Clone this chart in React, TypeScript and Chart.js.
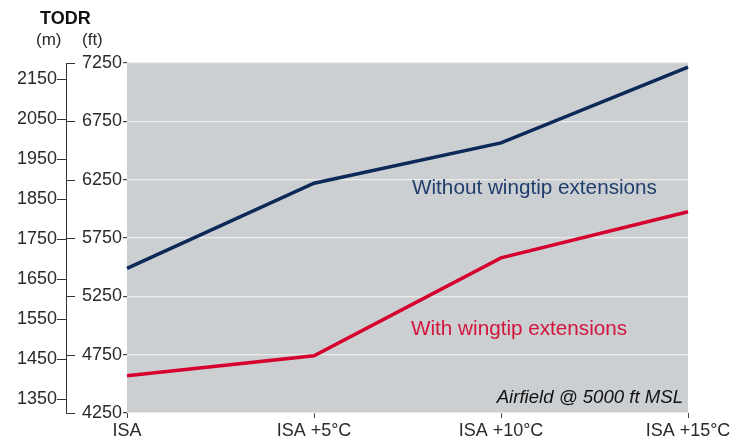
import React, { useEffect, useRef } from "react";
import { Chart, registerables } from "chart.js";

Chart.register(...registerables);

const categories = ["ISA", "ISA +5°C", "ISA +10°C", "ISA +15°C"];
const withoutWingtip = [5490, 6220, 6565, 7215];
const withWingtip = [4570, 4740, 5580, 5975];
const ftTicks = [4250, 4750, 5250, 5750, 6250, 6750, 7250];
const mTicks = [1350, 1450, 1550, 1650, 1750, 1850, 1950, 2050, 2150];
const ftRange = [4250, 7250];
const mRange = [1315, 2190];

const FONT = "'Liberation Sans', Arial, Helvetica, sans-serif";
const NAVY = "#0c2957";
const RED = "#d6002e";
const TEXT = "#2a2a2a";

const decorPlugin = {
  id: "decor",
  beforeDraw(chart: any) {
    const { ctx, chartArea } = chart;
    ctx.save();
    ctx.fillStyle = "#cccfd2";
    ctx.fillRect(chartArea.left, chartArea.top, chartArea.right - chartArea.left, chartArea.bottom - chartArea.top);
    ctx.restore();
  },
  afterDraw(chart: any) {
    const { ctx, chartArea } = chart;
    const m = chart.scales.ym;
    const f = chart.scales.yft;
    ctx.save();
    ctx.strokeStyle = "#333";
    ctx.lineWidth = 1;
    ftTicks.forEach((v) => {
      const y = Math.round(f.getPixelForValue(v)) + 0.5;
      ctx.beginPath();
      ctx.moveTo(m.right, y);
      ctx.lineTo(m.right + 9, y);
      ctx.stroke();
    });
    ctx.fillStyle = "#111";
    ctx.textBaseline = "alphabetic";
    ctx.textAlign = "left";
    ctx.font = `bold 18px ${FONT}`;
    ctx.fillText("TODR", 40, 24);
    ctx.fillStyle = TEXT;
    ctx.font = `17px ${FONT}`;
    ctx.fillText("(m)", 36, 45);
    ctx.fillText("(ft)", 82, 45);
    ctx.font = `20.7px ${FONT}`;
    ctx.fillStyle = "#1f3d6d";
    ctx.fillText("Without wingtip extensions", 412, 194);
    ctx.fillStyle = "#d3143c";
    ctx.fillText("With wingtip extensions", 411, 335);
    ctx.fillStyle = "#111";
    ctx.font = `italic 18.6px ${FONT}`;
    ctx.textAlign = "right";
    ctx.fillText("Airfield @ 5000 ft MSL", chartArea.right - 5, 403);
    ctx.restore();
  },
};

const plain = (v: any) => String(v);

export default function App() {
  const ref = useRef<HTMLCanvasElement | null>(null);
  useEffect(() => {
    document.body.style.margin = "0";
    if (!ref.current) return;
    const chart = new Chart(ref.current, {
      type: "line",
      data: {
        labels: categories,
        datasets: [
          {
            label: "Without wingtip extensions",
            data: withoutWingtip,
            borderColor: NAVY,
            borderWidth: 3.5,
            pointRadius: 0,
            tension: 0,
            yAxisID: "yft",
          },
          {
            label: "With wingtip extensions",
            data: withWingtip,
            borderColor: RED,
            borderWidth: 3.5,
            pointRadius: 0,
            tension: 0,
            yAxisID: "yft",
          },
        ],
      },
      options: {
        responsive: false,
        animation: false,
        devicePixelRatio: 1,
        layout: { padding: { top: 63, right: 58, bottom: 0, left: 0 } },
        plugins: { legend: { display: false }, tooltip: { enabled: false } },
        scales: {
          x: {
            type: "category",
            offset: false,
            grid: { drawOnChartArea: false, drawTicks: true, tickLength: 5, tickColor: "#444" },
            border: { display: false },
            ticks: { color: TEXT, font: { family: FONT, size: 18 }, padding: 2, maxRotation: 0, autoSkip: false },
            afterFit: (s: any) => { s.height = 27; },
          },
          yft: {
            type: "linear",
            position: "left",
            weight: 0,
            min: ftRange[0],
            max: ftRange[1],
            afterBuildTicks: (s: any) => { s.ticks = ftTicks.map((v) => ({ value: v })); },
            grid: { color: "#ececec", lineWidth: 1.2, tickLength: 4, tickColor: "#444", drawTicks: true },
            border: { display: false },
            ticks: { color: TEXT, font: { family: FONT, size: 18 }, padding: 1, callback: plain },
            afterFit: (s: any) => { s.width = 61; },
          },
          ym: {
            type: "linear",
            position: "left",
            weight: 1,
            min: mRange[0],
            max: mRange[1],
            afterBuildTicks: (s: any) => { s.ticks = mTicks.map((v) => ({ value: v })); },
            grid: { drawOnChartArea: false, tickLength: 9, tickColor: "#333", drawTicks: true },
            border: { display: true, color: "#333", width: 1 },
            ticks: { color: TEXT, font: { family: FONT, size: 18 }, padding: 0, callback: plain },
            afterFit: (s: any) => { s.width = 66; },
          },
        },
      },
      plugins: [decorPlugin],
    });
    return () => chart.destroy();
  }, []);
  return (
    <div style={{ width: 746, height: 440 }}>
      <canvas ref={ref} width={746} height={440} />
    </div>
  );
}
